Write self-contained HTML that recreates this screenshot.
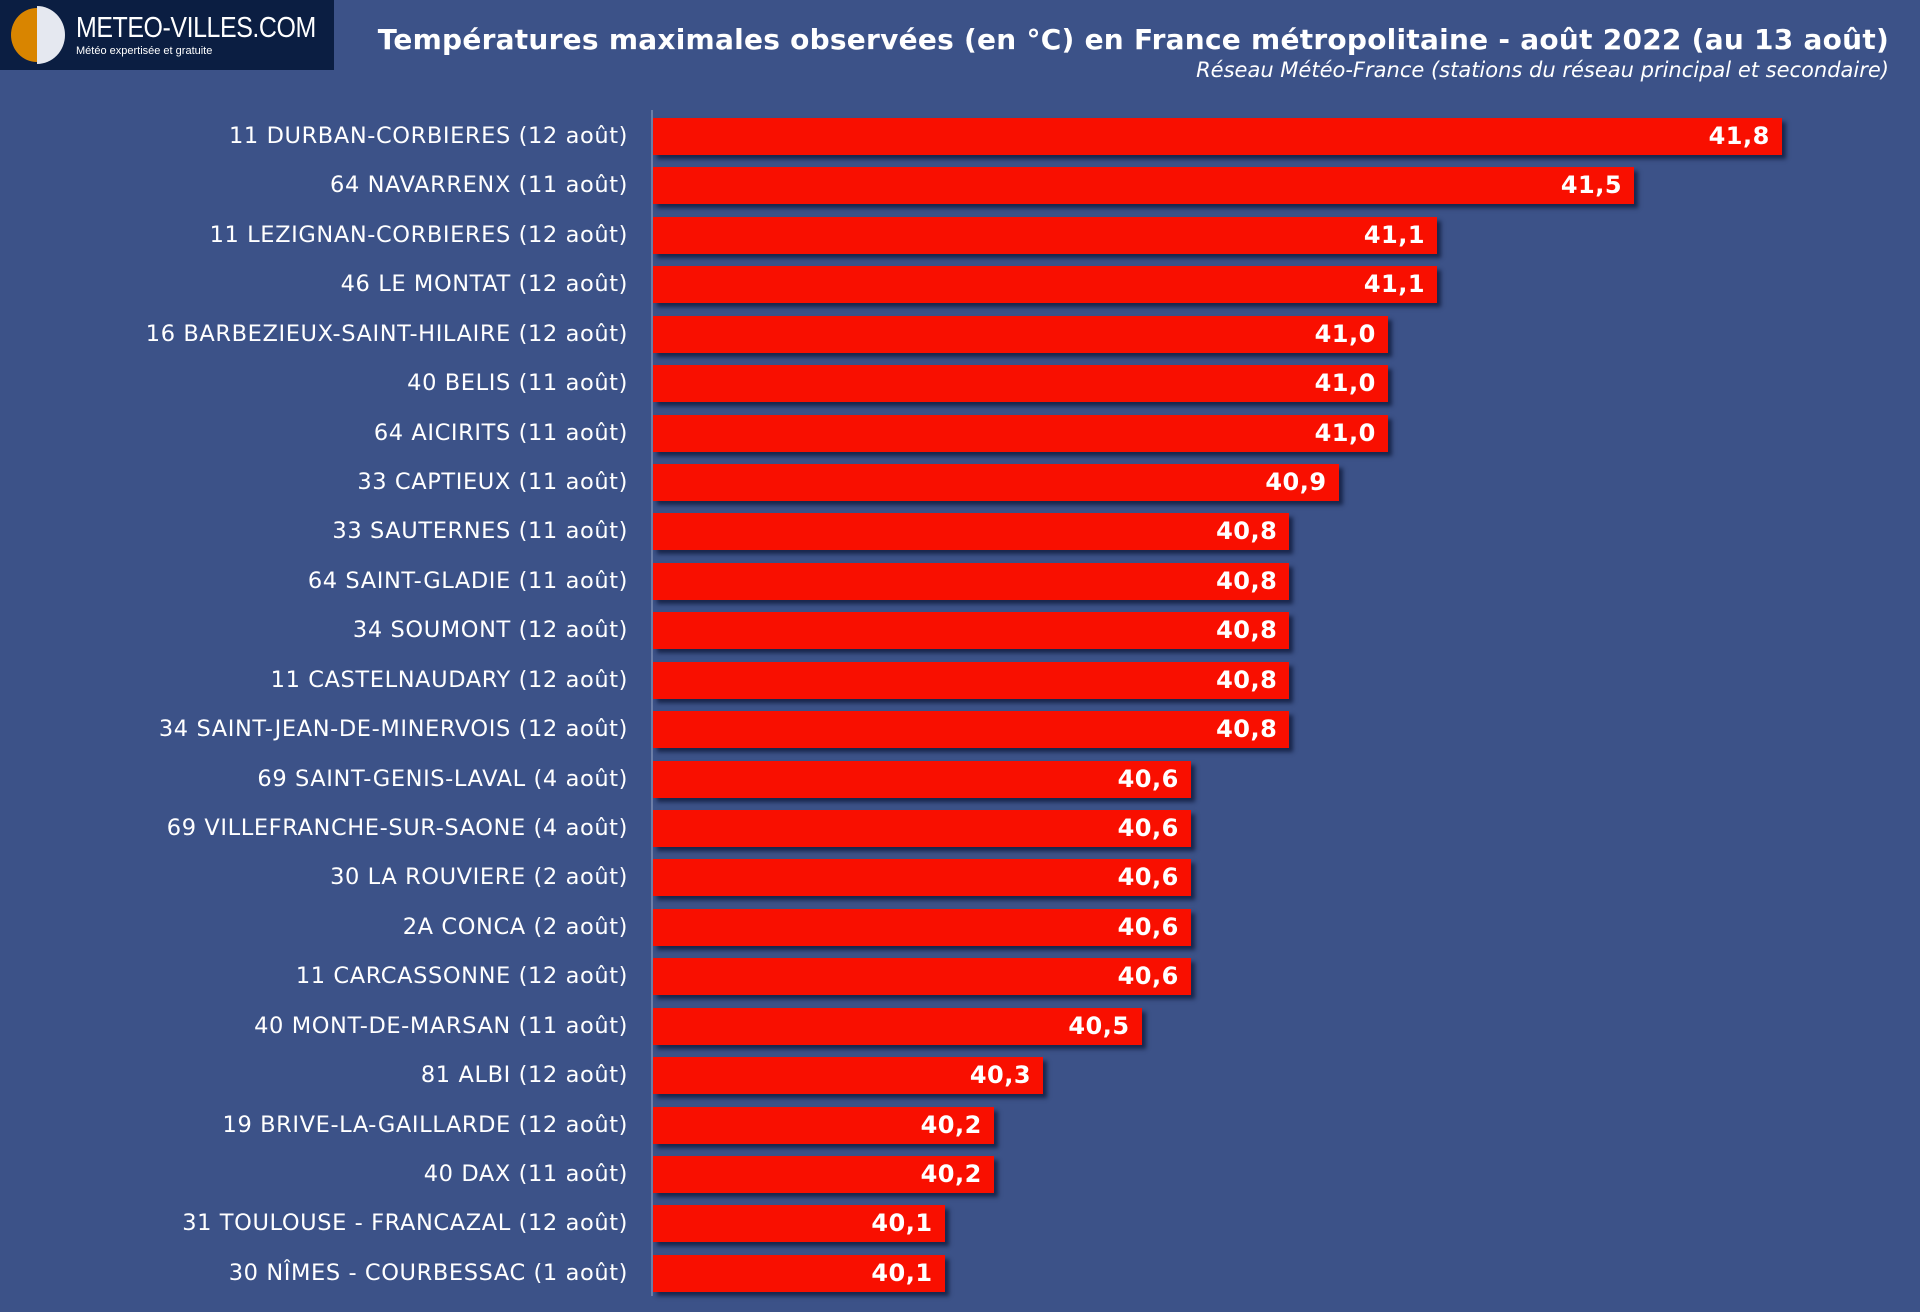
<!DOCTYPE html>
<html><head><meta charset="utf-8"><style>
body{margin:0;width:1920px;height:1312px;background:#3c5288;position:relative;overflow:hidden;font-family:"DejaVu Sans","Liberation Sans",sans-serif;}
.logo{position:absolute;left:0;top:0;width:334px;height:70px;background:#0b1e42;}
.t{position:absolute;right:31px;top:23px;color:#fff;font-weight:bold;font-size:28px;white-space:nowrap;letter-spacing:0.25px}
.s{position:absolute;right:31px;top:58px;color:#fff;font-style:italic;font-size:21px;white-space:nowrap}
.axis{position:absolute;left:651px;top:110px;width:2px;height:1186px;background:#6c7ea8}
.lab{position:absolute;right:1292px;width:640px;text-align:right;color:#fff;font-size:22.5px;letter-spacing:0.6px;line-height:37px;white-space:nowrap}
.bar{position:absolute;left:653px;height:37px;background:#f90f00;box-shadow:4px 4px 4px rgba(10,20,50,0.7)}
.v{position:absolute;right:12px;top:0;line-height:37px;color:#fff;font-weight:bold;font-size:24px;letter-spacing:0.5px}
</style></head><body>
<div class="logo">
<svg width="70" height="70" style="position:absolute;left:4px;top:0"><path d="M33 8 A26 27 0 0 0 33 62 Z" fill="#d98500"/><path d="M33 6 A28 29 0 0 1 33 64 Z" fill="#e5e8f0"/></svg>
<div style="position:absolute;left:76px;top:12px;color:#fff;font-family:'Liberation Sans',sans-serif;font-size:29px;white-space:nowrap;letter-spacing:-0.5px;transform:scaleX(0.86);transform-origin:left">METEO-VILLES.COM</div>
<div style="position:absolute;left:76px;top:45px;color:#fff;font-family:'Liberation Sans',sans-serif;font-size:11px;white-space:nowrap">Météo expertisée et gratuite</div>
</div>
<div class="t">Températures maximales observées (en °C) en France métropolitaine - août 2022 (au 13 août)</div>
<div class="s">Réseau Météo-France (stations du réseau principal et secondaire)</div>
<div class="axis"></div>
<div id="rows"></div>
<script>
var d=[["11 DURBAN-CORBIERES (12 août)","41,8"],["64 NAVARRENX (11 août)","41,5"],["11 LEZIGNAN-CORBIERES (12 août)","41,1"],["46 LE MONTAT (12 août)","41,1"],["16 BARBEZIEUX-SAINT-HILAIRE (12 août)","41,0"],["40 BELIS (11 août)","41,0"],["64 AICIRITS (11 août)","41,0"],["33 CAPTIEUX (11 août)","40,9"],["33 SAUTERNES (11 août)","40,8"],["64 SAINT-GLADIE (11 août)","40,8"],["34 SOUMONT (12 août)","40,8"],["11 CASTELNAUDARY (12 août)","40,8"],["34 SAINT-JEAN-DE-MINERVOIS (12 août)","40,8"],["69 SAINT-GENIS-LAVAL (4 août)","40,6"],["69 VILLEFRANCHE-SUR-SAONE (4 août)","40,6"],["30 LA ROUVIERE (2 août)","40,6"],["2A CONCA (2 août)","40,6"],["11 CARCASSONNE (12 août)","40,6"],["40 MONT-DE-MARSAN (11 août)","40,5"],["81 ALBI (12 août)","40,3"],["19 BRIVE-LA-GAILLARDE (12 août)","40,2"],["40 DAX (11 août)","40,2"],["31 TOULOUSE - FRANCAZAL (12 août)","40,1"],["30 NÎMES - COURBESSAC (1 août)","40,1"]];
var h="";
d.forEach(function(r,i){var y=118+i*49.43;var w=(parseFloat(r[1].replace(",","."))-39.508)*492.5;
h+='<div class="lab" style="top:'+y+'px">'+r[0]+'</div><div class="bar" style="top:'+y+'px;width:'+w+'px"><span class="v">'+r[1]+'</span></div>';});
document.getElementById("rows").innerHTML=h;
</script>
</body></html>
